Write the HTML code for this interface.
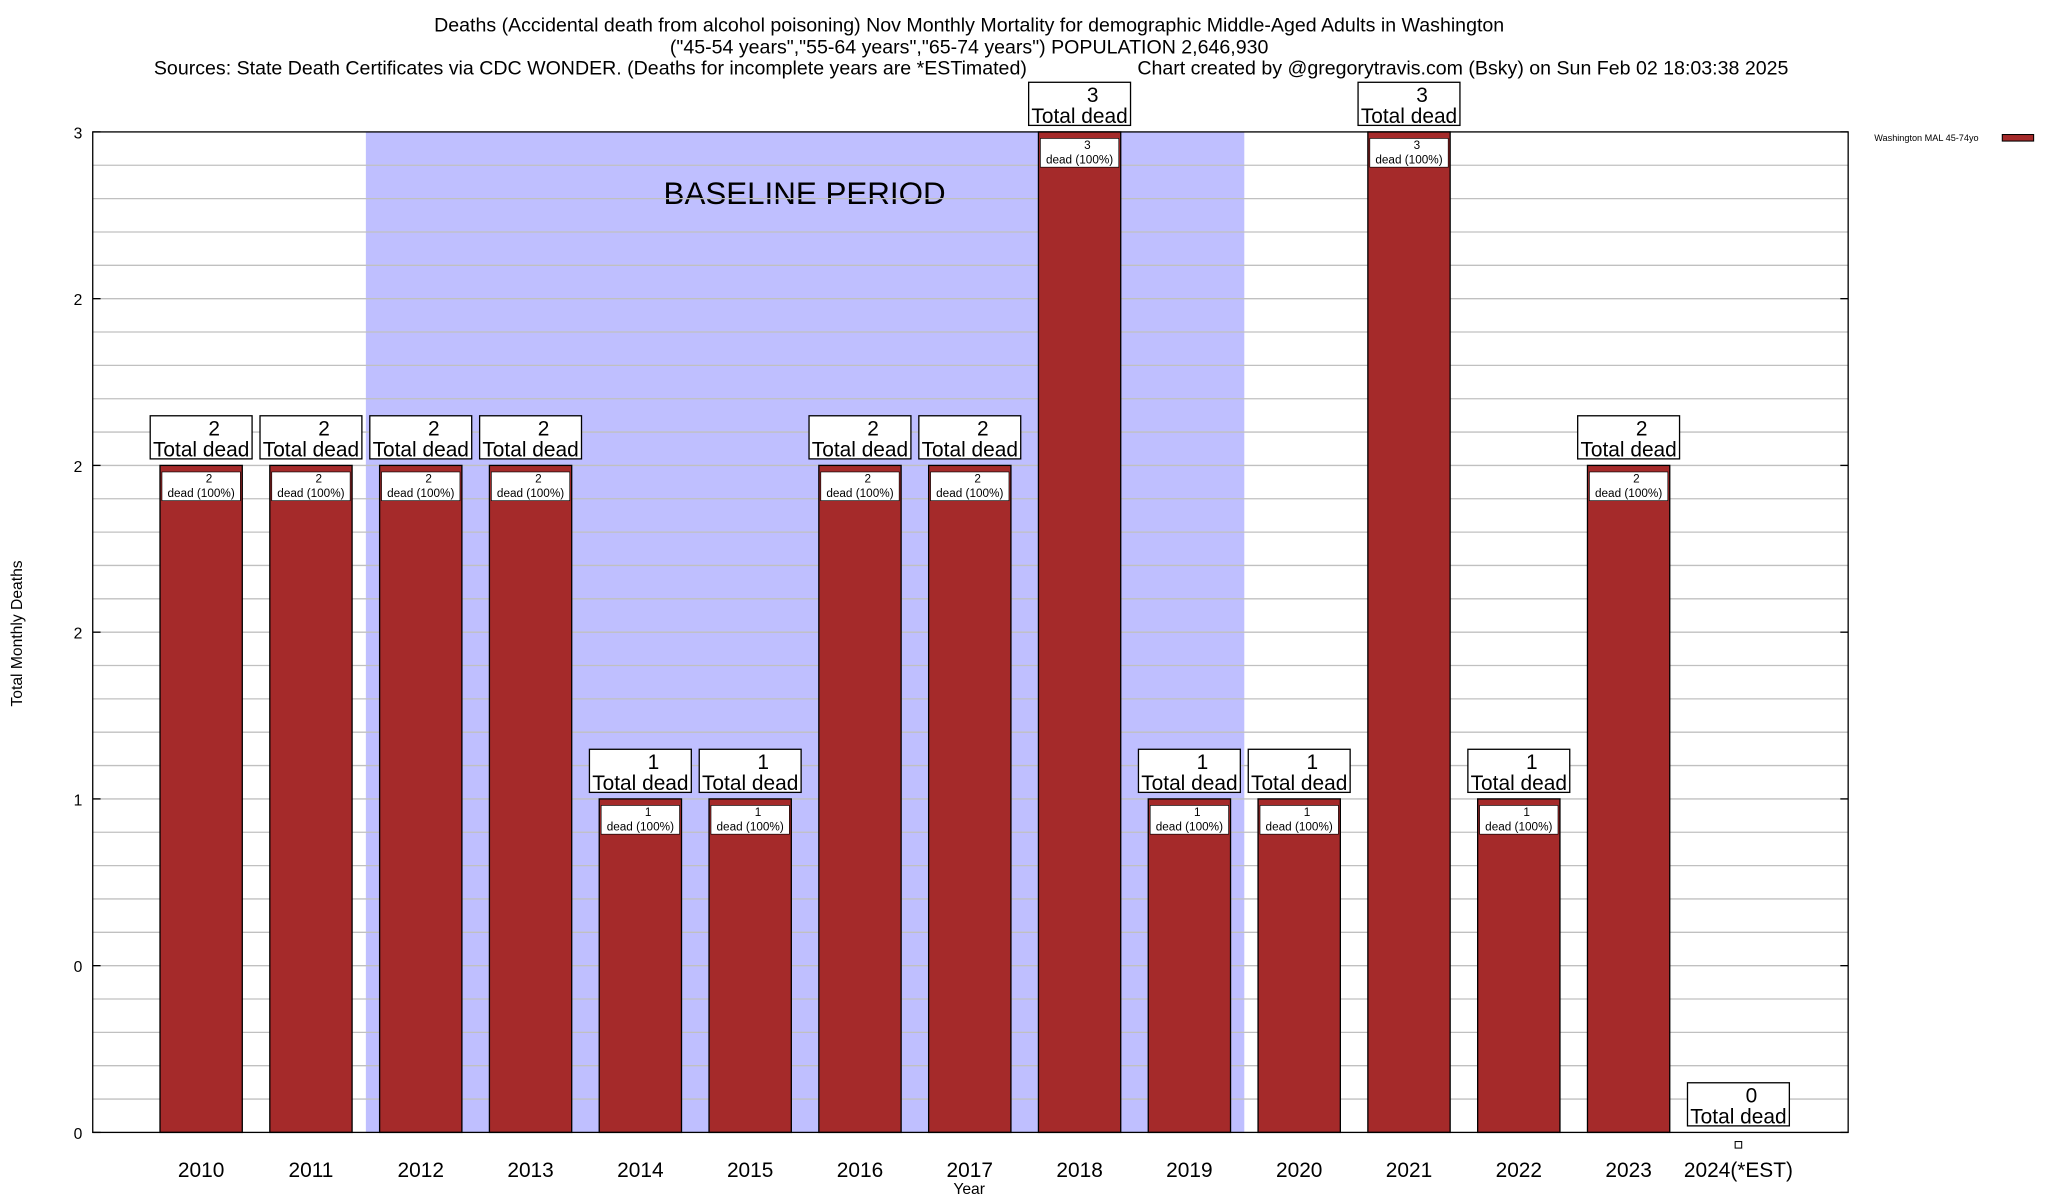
<!DOCTYPE html>
<html><head><meta charset="utf-8"><style>
html,body{margin:0;padding:0;background:#fff;}
svg{display:block;font-family:"Liberation Sans",sans-serif;}
</style></head><body>
<svg id="chart" width="2048" height="1200" viewBox="0 0 1568 918.75" xmlns="http://www.w3.org/2000/svg">
<g font-size="15" text-anchor="middle">
<text x="742" y="24">Deaths (Accidental death from alcohol poisoning) Nov Monthly Mortality for demographic Middle-Aged Adults in Washington</text>
<text x="742" y="41">("45-54 years","55-64 years","65-74 years") POPULATION 2,646,930</text>
<text x="452" y="57">Sources: State Death Certificates via CDC WONDER. (Deaths for incomplete years are *ESTimated)</text>
<text x="1120" y="57">Chart created by @gregorytravis.com (Bsky) on Sun Feb 02 18:03:38 2025</text>
</g>
<g id="grid"></g>
<g id="bars"></g>
<g id="axes"></g>
<text x="17" y="485" font-size="12" text-anchor="middle" transform="rotate(-90 17 485)">Total Monthly Deaths</text>
<text x="742" y="914" font-size="12" text-anchor="middle">Year</text>
<g>
<text x="1435" y="108" font-size="7">Washington MAL 45-74yo</text>
<rect x="1533" y="103" width="24" height="5" fill="#a52a2a" stroke="#000" stroke-width="0.8"/>
</g>
</svg>
<script>
const years = ["2010","2011","2012","2013","2014","2015","2016","2017","2018","2019","2020","2021","2022","2023","2024(*EST)"];
const deaths = [2,2,2,2,1,1,2,2,3,1,1,3,1,2,0];
const yTicks = [0,0.5,1,1.5,2,2.5,3];
const yTickLabels = ["0","0","1","2","2","2","3"];
const baselineStart = 2, baselineEnd = 9;

const NS="http://www.w3.org/2000/svg";
const L=71,R=1415,T=101,B=867,yMax=3;
const y=v=>B-(v/yMax)*(B-T);
const x=i=>154+i*84.07;
const bw=63;
function el(tag,attrs,parent,text){const e=document.createElementNS(NS,tag);for(const k in attrs)e.setAttribute(k,attrs[k]);if(text!==undefined)e.textContent=text;parent.appendChild(e);return e;}
const grid=document.getElementById('grid'),bars=document.getElementById('bars'),axes=document.getElementById('axes');

const sh=el('rect',{x:(x(baselineStart)+x(baselineStart-1))/2,y:T,width:x(baselineEnd)-x(baselineStart-1)+0.5*0,height:B-T,fill:'#bfbfff'},grid);
sh.setAttribute('width',((x(baselineEnd)+x(baselineEnd+1))/2)-((x(baselineStart)+x(baselineStart-1))/2));


const bl=el('text',{x:616,y:156,'font-size':24,'text-anchor':'middle'},grid,'BASELINE PERIOD');


for(let v=0.1;v<yMax-0.01;v+=0.1){el('line',{x1:L,x2:R,y1:y(v),y2:y(v),stroke:'#c0c0c0','stroke-width':1},grid);}

deaths.forEach((d,i)=>{
  const cx=x(i);
  const g=el('g',{},bars);
  
  
  if(d>0){
    el('rect',{x:cx-bw/2,y:y(d),width:bw,height:B-y(d),fill:'#a52a2a',stroke:'#000','stroke-width':1},g);
    el('rect',{x:cx-bw/2+1.5,y:y(d)+5,width:bw-3,height:22,fill:'#fff',stroke:'#000','stroke-width':0.5},g);
    el('text',{x:cx+6,y:y(d)+13,'font-size':9,'text-anchor':'middle'},g,String(d));
    el('text',{x:cx,y:y(d)+24,'font-size':9,'text-anchor':'middle'},g,'dead (100%)');
  } else {
    el('rect',{x:cx-2.5,y:B+7,width:5,height:5,fill:'#fff',stroke:'#000','stroke-width':0.8},g);
  }
  const by=d>0?y(d)-38:B-38;
  const lbl=el('g',{},g);
  
  
  el('rect',{x:cx-39,y:by,width:78,height:33,fill:'#fff',stroke:'#000','stroke-width':1},lbl);
  el('text',{x:cx+10,y:by+15,'font-size':16,'text-anchor':'middle'},lbl,String(d));
  el('text',{x:cx,y:by+31,'font-size':16,'text-anchor':'middle'},lbl,'Total dead');
  const t=el('text',{x:cx,y:901,'font-size':16,'text-anchor':'middle'},axes,years[i]);
  
  
});
el('rect',{x:L,y:T,width:R-L,height:B-T,fill:'none',stroke:'#000','stroke-width':1},axes);
yTicks.forEach((v,i)=>{
  el('line',{x1:L,x2:L+6,y1:y(v),y2:y(v),stroke:'#000'},axes);
  el('line',{x1:R-6,x2:R,y1:y(v),y2:y(v),stroke:'#000'},axes);
  const t=el('text',{x:L-8,y:y(v)+5,'font-size':12,'text-anchor':'end'},axes,yTickLabels[i]);
  
  
});
</script>
</body></html>
